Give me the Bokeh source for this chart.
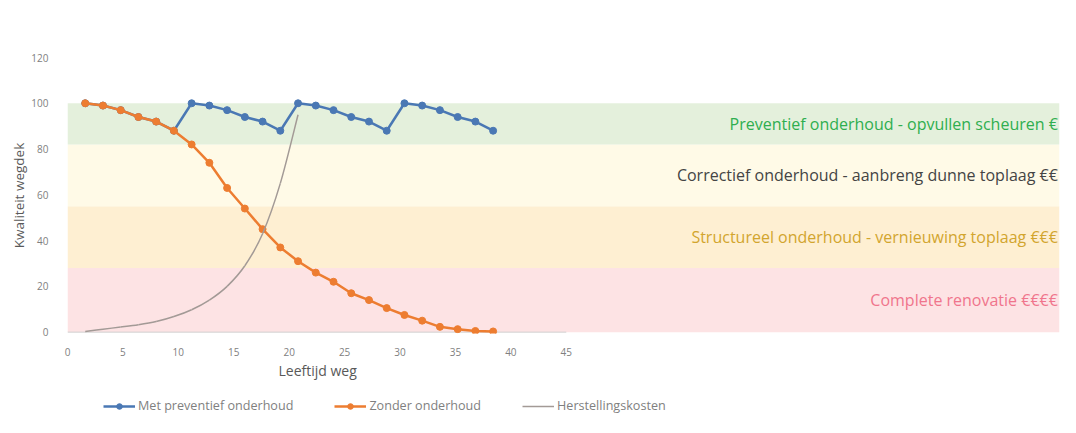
from bokeh.plotting import figure
from bokeh.layouts import column
from bokeh.models import Range1d, FixedTicker, Legend, LegendItem, Title
from bokeh.core.properties import value
from bokeh.embed import file_html
from bokeh.resources import INLINE

# ---- data ----
age = [1.6, 3.2, 4.8, 6.4, 8.0, 9.6, 11.2, 12.8, 14.4, 16.0, 17.6, 19.2,
       20.8, 22.4, 24.0, 25.6, 27.2, 28.8, 30.4, 32.0, 33.6, 35.2, 36.8, 38.4]
met_preventief = [100, 99, 97, 94, 92, 88, 100, 99, 97, 94, 92, 88,
                  100, 99, 97, 94, 92, 88, 100, 99, 97, 94, 92, 88]
zonder_onderhoud = [100, 99, 97, 94, 92, 88, 82, 74, 63, 54, 45, 37,
                    31, 26, 22, 17, 14, 10.5, 7.5, 5, 2.3, 1.3, 0.5, 0.3]
kosten_age = [1.6, 3.2, 4.8, 6.4, 8.0, 9.6, 11.2, 12.8, 14.4, 16.0, 17.6, 19.2, 20.8]
herstellingskosten = [0.3, 1.3, 2.2, 3.2, 4.6, 6.8, 9.8, 14, 20, 29, 43, 65, 95]

band_names = ["Complete renovatie €€€€",
              "Structureel onderhoud - vernieuwing toplaag €€€",
              "Correctief onderhoud - aanbreng dunne toplaag €€",
              "Preventief onderhoud - opvullen scheuren €"]
band_low = [0, 28, 55, 82]
band_high = [28, 55, 82, 100]

series_names = ["Met preventief onderhoud", "Zonder onderhoud", "Herstellingskosten"]
x_ticks = [0, 5, 10, 15, 20, 25, 30, 35, 40, 45]
y_ticks = [0, 20, 40, 60, 80, 100, 120]

# ---- styles ----
BAND_FILL = ["#fde3e4", "#feefd2", "#fffae7", "#e4f0dc"]
BAND_TEXT = ["#f0758c", "#d2a52e", "#444444", "#2fae4f"]
BLUE = "#4a78b4"
ORANGE = "#ed7d31"
GREY = "#a39a96"
FONT = "Open Sans"
X_END = 89.5

p = figure(width=1060, height=388, output_backend="svg", toolbar_location=None,
           x_range=Range1d(0, X_END), y_range=Range1d(-0.6, 120),
           min_border_left=67, min_border_right=1, min_border_top=57,
           min_border_bottom=55)
p.outline_line_color = None
p.grid.visible = False

p.quad(left=0, right=X_END, bottom=band_low, top=band_high,
       fill_color=BAND_FILL, line_color=None)

mids = [(a + b) / 2 for a, b in zip(band_low, band_high)]
p.text(x=[X_END - 0.15] * len(band_names), y=mids, text=band_names,
       text_align="right", text_baseline="middle",
       text_font=value(FONT), text_font_size="16px", text_color=BAND_TEXT)

# x axis line only up to last tick
p.segment(x0=[x_ticks[0]], y0=[0], x1=[x_ticks[-1]], y1=[0],
          line_color="#d0d0d0", line_width=1)


def smooth(xs, ys):
    """Catmull-Rom control points for a smoothed line through the data."""
    n = len(xs)
    bz = dict(x0=[], y0=[], x1=[], y1=[], cx0=[], cy0=[], cx1=[], cy1=[])
    for i in range(n - 1):
        a = i - 1 if i > 0 else i
        d = i + 2 if i + 2 < n else i + 1
        bz["x0"].append(xs[i]); bz["y0"].append(ys[i])
        bz["x1"].append(xs[i + 1]); bz["y1"].append(ys[i + 1])
        bz["cx0"].append(xs[i] + (xs[i + 1] - xs[a]) / 6)
        bz["cy0"].append(ys[i] + (ys[i + 1] - ys[a]) / 6)
        bz["cx1"].append(xs[i + 1] - (xs[d] - xs[i]) / 6)
        bz["cy1"].append(ys[i + 1] - (ys[d] - ys[i]) / 6)
    return bz


p.line(age, met_preventief, color=BLUE, line_width=2.5)
p.scatter(age, met_preventief, size=7, color=BLUE)
p.line(age, zonder_onderhoud, color=ORANGE, line_width=2.5)
p.scatter(age, zonder_onderhoud, size=7, color=ORANGE)
p.bezier(line_color=GREY, line_width=1.5, **smooth(kosten_age, herstellingskosten))

for ax in (p.xaxis, p.yaxis):
    ax.axis_line_color = None
    ax.major_tick_line_color = None
    ax.minor_tick_line_color = None
    ax.major_label_text_font_size = "10px"
    ax.major_label_text_color = "#808080"
    ax.major_label_text_font = FONT

p.xaxis.ticker = FixedTicker(ticks=x_ticks)
p.xaxis.major_label_standoff = 8
p.yaxis.ticker = FixedTicker(ticks=y_ticks)
p.yaxis.major_label_standoff = 13
p.yaxis.axis_label = "Kwaliteit wegdek"
p.yaxis.axis_label_text_font_size = "13.5px"
p.yaxis.axis_label_text_font_style = "normal"
p.yaxis.axis_label_text_color = "#595959"
p.yaxis.axis_label_text_font = FONT
p.yaxis.axis_label_standoff = 0

xt = Title(text="Leeftijd weg", align="left", offset=211,
           text_font_size="14px", text_font_style="normal",
           text_color="#595959", text_font=FONT, standoff=0)
p.add_layout(xt, "below")

# ---- legend row (same series, drawn outside this strip's view) ----
lg = figure(width=1060, height=30, output_backend="svg", toolbar_location=None,
            x_axis_type=None, y_axis_type=None, min_border=0,
            x_range=Range1d(-200, -199), y_range=Range1d(-200, -199))
lg.outline_line_color = None
r1 = lg.line(age, met_preventief, color=BLUE, line_width=2.5)
r1s = lg.scatter(age, met_preventief, size=7, color=BLUE)
r2 = lg.line(age, zonder_onderhoud, color=ORANGE, line_width=2.5)
r2s = lg.scatter(age, zonder_onderhoud, size=7, color=ORANGE)
r3 = lg.line(kosten_age, herstellingskosten, color=GREY, line_width=1.5)
legend = Legend(items=[LegendItem(label=series_names[0], renderers=[r1, r1s]),
                       LegendItem(label=series_names[1], renderers=[r2, r2s]),
                       LegendItem(label=series_names[2], renderers=[r3])],
                orientation="horizontal", location=(36, 4), padding=0, margin=0,
                spacing=41, glyph_width=32, glyph_height=14, label_standoff=3,
                label_text_font_size="12.6px", label_text_color="#7f7f7f",
                label_text_font=FONT, border_line_color=None,
                background_fill_alpha=0)
lg.add_layout(legend, "center")

open("out.html", "w").write(file_html(column(p, lg, spacing=0), INLINE))
